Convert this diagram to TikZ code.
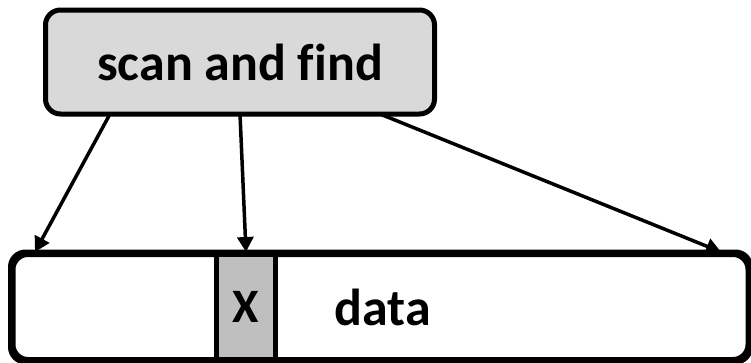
\documentclass[tikz,border=0pt]{standalone}
\usepackage{fontspec}
\setmainfont[Ligatures=NoCommon]{Carlito}
\usetikzlibrary{arrows.meta}
\definecolor{topfill}{HTML}{D9D9D9}
\definecolor{cellfill}{HTML}{BFBFBF}
\tikzset{
  box/.style={draw=black, line width=5pt, rounded corners=15pt, inner sep=0pt, font=\fontsize{52}{56}\selectfont\bfseries},
  cellbox/.style={draw=black, fill=cellfill, line width=5pt, inner sep=0pt, font=\fontsize{48}{52}\selectfont\bfseries},
  conn/.style={line width=3.5pt, -{Triangle[length=15pt,width=16pt]}, shorten >=0pt}
}
\begin{document}
\begin{tikzpicture}[x=1pt,y=-1pt]
\useasboundingbox (0,0) rectangle (751,362);
\node[box, fill=topfill, minimum width=389pt, minimum height=104pt] (scan) at (240,62) {\raisebox{-3pt}{scan and find}};
\node[box, fill=white, minimum width=735pt, minimum height=105pt] (data) at (380.5,307) {\hspace*{4pt}\raisebox{-2pt}{data}};
\node[cellbox, minimum width=59pt, minimum height=105pt] (x) at (245.5,307) {\raisebox{-3pt}{X}};
\draw[line width=5pt, rounded corners=15pt] (data.north west) rectangle (data.south east);
\coordinate (s1) at (110,114);
\coordinate (s2) at (240,114);
\coordinate (s3) at (380,114);
\coordinate (e1) at (35,252);
\coordinate (e2) at (246,252);
\coordinate (e3) at (721,252);
\draw[conn] (s1) -- (e1);
\draw[conn] (s2) -- (e2);
\draw[conn] (s3) -- (e3);
\end{tikzpicture}
\end{document}
